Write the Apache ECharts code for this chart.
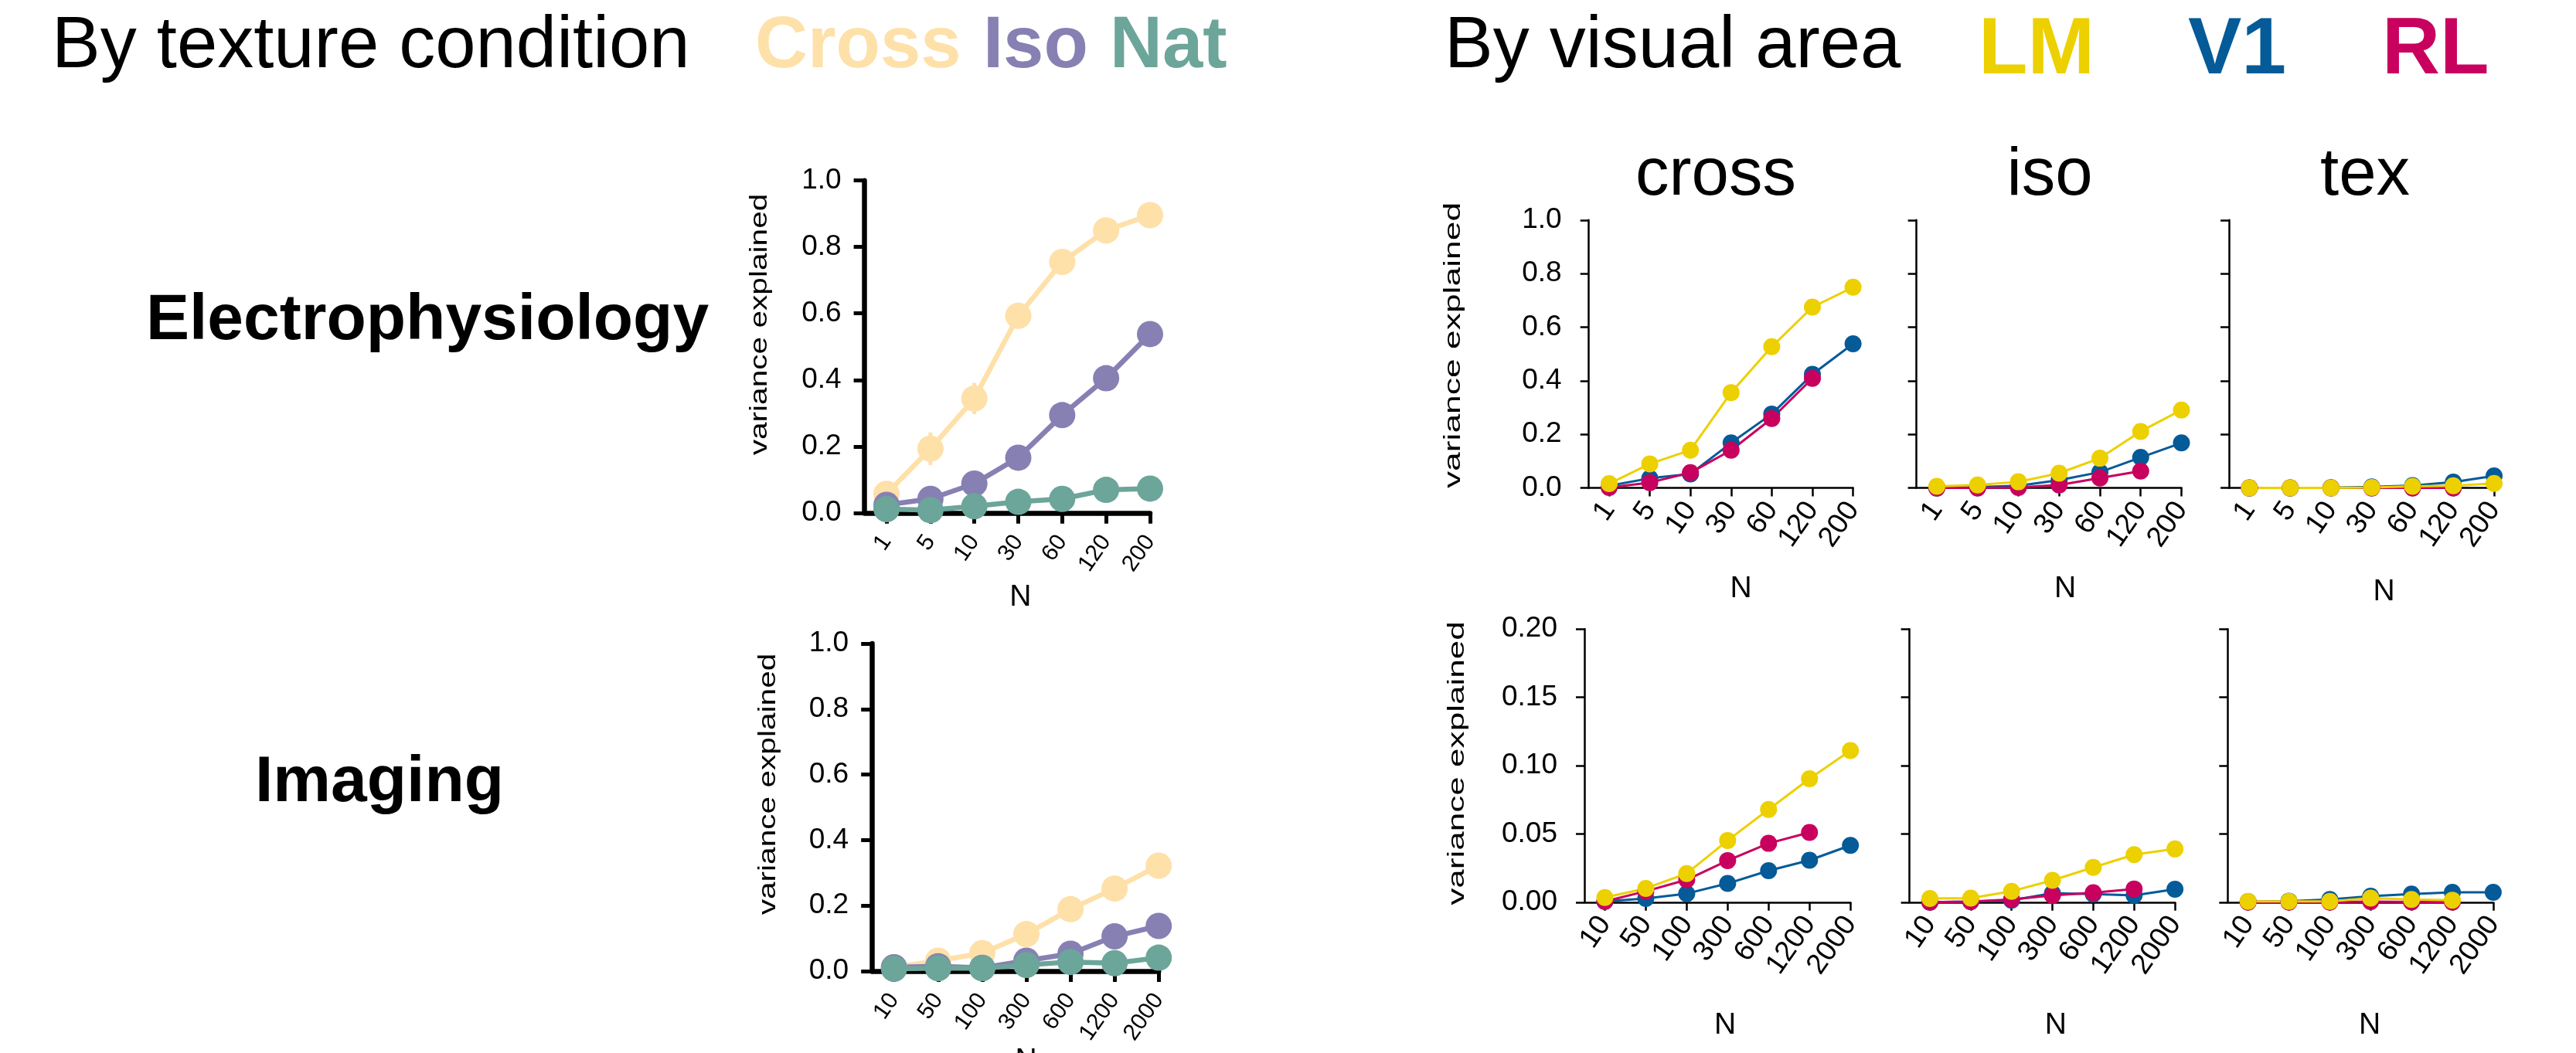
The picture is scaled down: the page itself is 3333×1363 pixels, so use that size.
<!DOCTYPE html>
<html>
<head>
<meta charset="utf-8">
<script src="https://cdn.jsdelivr.net/npm/echarts@6/dist/echarts.min.js"></script>
<style>
html,body{margin:0;padding:0;background:#fff;}
#chart{width:3333px;height:1363px;}
</style>
</head>
<body>
<div id="chart"></div>
<script>
// ---------- tick labels ----------
const nLabelsEphys = ['1', '5', '10', '30', '60', '120', '200'];
const nLabelsImaging = ['10', '50', '100', '300', '600', '1200', '2000'];

// ---------- by texture condition ----------
const ephysCross    = [0.057, 0.193, 0.344, 0.593, 0.755, 0.850, 0.896];
const ephysCrossErr = [0.000, 0.049, 0.047, 0.000, 0.000, 0.000, 0.000];
const ephysIso      = [0.024, 0.042, 0.088, 0.166, 0.294, 0.405, 0.538];
const ephysNat      = [0.011, 0.008, 0.020, 0.033, 0.042, 0.069, 0.073];
const imgCross      = [0.012, 0.032, 0.055, 0.113, 0.189, 0.252, 0.322];
const imgIso        = [0.012, 0.015, 0.010, 0.032, 0.053, 0.106, 0.138];
const imgNat        = [0.007, 0.009, 0.009, 0.019, 0.028, 0.024, 0.041];

// ---------- by visual area (electrophysiology) ----------
const ephCrossLM = [0.016, 0.090, 0.141, 0.356, 0.527, 0.675, 0.749];
const ephCrossV1 = [0.008, 0.036, 0.052, 0.168, 0.276, 0.424, 0.538];
const ephCrossRL = [0.002, 0.020, 0.057, 0.141, 0.259, 0.409, null];
const ephIsoLM   = [0.006, 0.011, 0.023, 0.055, 0.111, 0.211, 0.291];
const ephIsoV1   = [0.000, 0.003, 0.008, 0.029, 0.059, 0.114, 0.168];
const ephIsoRL   = [0.000, 0.000, 0.002, 0.011, 0.037, 0.063, null];
const ephTexLM   = [0.000, 0.000, 0.000, 0.002, 0.006, 0.008, 0.017];
const ephTexV1   = [0.000, 0.000, 0.001, 0.004, 0.009, 0.022, 0.045];
const ephTexRL   = [0.000, 0.000, 0.000, 0.000, 0.000, 0.000, null];

// ---------- by visual area (imaging) ----------
const imgCrossLM = [0.0034, 0.0101, 0.0210, 0.0452, 0.0679, 0.0904, 0.1110];
const imgCrossV1 = [0.0006, 0.0027, 0.0063, 0.0137, 0.0231, 0.0307, 0.0416];
const imgCrossRL = [0.0006, 0.0080, 0.0164, 0.0305, 0.0431, 0.0511, null];
const imgIsoLM   = [0.0027, 0.0030, 0.0080, 0.0160, 0.0255, 0.0348, 0.0390];
const imgIsoV1   = [0.0000, 0.0005, 0.0015, 0.0065, 0.0060, 0.0050, 0.0095];
const imgIsoRL   = [0.0000, 0.0005, 0.0020, 0.0050, 0.0070, 0.0097, null];
const imgTexLM   = [0.0006, 0.0006, 0.0006, 0.0030, 0.0020, 0.0015, null];
const imgTexV1   = [0.0005, 0.0008, 0.0020, 0.0044, 0.0060, 0.0072, 0.0072];
const imgTexRL   = [0.0000, 0.0000, 0.0000, 0.0004, 0.0002, 0.0001, null];

// ---------- colours ----------
const C_CROSS = '#FEE0A9', C_ISO = '#8780B3', C_NAT = '#6CA59A';
const C_LM = '#EDD000', C_V1 = '#055A98', C_RL = '#C8015F';
const FONT = 'Liberation Sans, Arial, Helvetica, sans-serif';

const chart = echarts.init(document.getElementById('chart'), null, {renderer: 'canvas'});

// grid rectangles (panel layout)
const grids = [
  {left: 1118.6, top: 233.7, width: 369.4, height: 430.1},  // 0 ephys by texture
  {left: 1128.2, top: 833.0, width: 371.0, height: 424.0},  // 1 imaging by texture
  {left: 2055.7, top: 284.8, width: 341.9, height: 346.8},  // 2 ephys cross
  {left: 2479.6, top: 284.8, width: 342.9, height: 346.8},  // 3 ephys iso
  {left: 2884.1, top: 284.8, width: 342.9, height: 346.8},  // 4 ephys tex
  {left: 2050.0, top: 814.2, width: 344.2, height: 353.6},  // 5 imaging cross
  {left: 2470.6, top: 814.2, width: 343.5, height: 353.6},  // 6 imaging iso
  {left: 2882.3, top: 814.2, width: 343.6, height: 353.6}   // 7 imaging tex
];

const tickPos = nLabelsEphys.map((_, i) => i + 1);

function xAxisDef(gi, labels, o) {
  return {
    gridIndex: gi, type: 'value', min: 0.5, max: labels.length,
    splitLine: {show: false},
    axisLine: {onZero: false, lineStyle: {color: '#000', width: o.lw}},
    axisTick: {customValues: tickPos, length: o.tl, lineStyle: {color: '#000', width: o.tw}},
    axisLabel: {
      customValues: tickPos, formatter: v => labels[Math.round(v) - 1],
      rotate: 55, margin: o.lm, fontSize: o.fs, color: '#000', fontFamily: FONT
    },
    name: 'N', nameLocation: 'middle', nameGap: o.ng, nameMoveOverlap: false,
    nameTextStyle: {fontSize: 39, color: '#000', fontFamily: FONT, padding: [0, 0, 0, o.nx]}
  };
}
function yAxisDef(gi, max, interval, digits, o) {
  return {
    gridIndex: gi, type: 'value', min: 0, max: max, interval: interval,
    splitLine: {show: false},
    axisLine: {lineStyle: {color: '#000', width: o.lw}},
    axisTick: {length: o.tl, lineStyle: {color: '#000', width: o.tw}},
    axisLabel: {show: o.show, formatter: v => v.toFixed(digits), margin: o.lm,
                fontSize: o.fs, color: '#000', fontFamily: FONT}
  };
}
const L = {lw: 6.5, tl: 14, tw: 5, fs: 30, lm: 32};
const R = {lw: 2.5, tl: 11, tw: 2.5, fs: 37, lm: 22};

const xAxes = [
  xAxisDef(0, nLabelsEphys,   Object.assign({}, L, {ng: 90, nx: 34})),
  xAxisDef(1, nLabelsImaging, Object.assign({}, L, {ng: 97, nx: 28})),
  xAxisDef(2, nLabelsEphys,   Object.assign({}, R, {ng: 111, nx: 52})),
  xAxisDef(3, nLabelsEphys,   Object.assign({}, R, {ng: 111, nx: 42})),
  xAxisDef(4, nLabelsEphys,   Object.assign({}, R, {ng: 115, nx: 58})),
  xAxisDef(5, nLabelsImaging, Object.assign({}, R, {ng: 140, nx: 20})),
  xAxisDef(6, nLabelsImaging, Object.assign({}, R, {ng: 140, nx: 35})),
  xAxisDef(7, nLabelsImaging, Object.assign({}, R, {ng: 140, nx: 24}))
];
const yAxes = [
  yAxisDef(0, 1.0, 0.2, 1, {lw: 6.5, tl: 14, tw: 5, fs: 37, lm: 30, show: true}),
  yAxisDef(1, 1.0, 0.2, 1, {lw: 6.5, tl: 14, tw: 5, fs: 37, lm: 30, show: true}),
  yAxisDef(2, 1.0, 0.2, 1, {lw: 2.5, tl: 11, tw: 2.5, fs: 37, lm: 35, show: true}),
  yAxisDef(3, 1.0, 0.2, 1, {lw: 2.5, tl: 11, tw: 2.5, fs: 37, lm: 35, show: false}),
  yAxisDef(4, 1.0, 0.2, 1, {lw: 2.5, tl: 11, tw: 2.5, fs: 37, lm: 35, show: false}),
  yAxisDef(5, 0.2, 0.05, 2, {lw: 2.5, tl: 11, tw: 2.5, fs: 37, lm: 35, show: true}),
  yAxisDef(6, 0.2, 0.05, 2, {lw: 2.5, tl: 11, tw: 2.5, fs: 37, lm: 35, show: false}),
  yAxisDef(7, 0.2, 0.05, 2, {lw: 2.5, tl: 11, tw: 2.5, fs: 37, lm: 35, show: false})
];

function lineSeries(name, gi, values, color, size, width) {
  const data = [];
  values.forEach((v, i) => { if (v !== null) data.push([i + 1, v]); });
  return {
    name: name, type: 'line', xAxisIndex: gi, yAxisIndex: gi, data: data,
    symbol: 'circle', symbolSize: size, showSymbol: true, clip: false, silent: true,
    lineStyle: {color: color, width: width}, itemStyle: {color: color}
  };
}
function errorSeries(gi, values, errs, color, width) {
  const data = [];
  values.forEach((v, i) => { if (errs[i] > 0) data.push([i + 1, v - errs[i], v + errs[i]]); });
  return {
    type: 'custom', xAxisIndex: gi, yAxisIndex: gi, data: data, silent: true,
    encode: {x: 0, y: [1, 2]}, clip: false,
    renderItem: function (params, api) {
      const p1 = api.coord([api.value(0), api.value(1)]);
      const p2 = api.coord([api.value(0), api.value(2)]);
      return {type: 'line', shape: {x1: p1[0], y1: p1[1], x2: p2[0], y2: p2[1]},
              style: {stroke: color, lineWidth: width}};
    }
  };
}
const series = [
  errorSeries(0, ephysCross, ephysCrossErr, C_CROSS, 5),
  lineSeries('Cross', 0, ephysCross, C_CROSS, 34, 6.5),
  lineSeries('Iso',   0, ephysIso,   C_ISO,   34, 6.5),
  lineSeries('Nat',   0, ephysNat,   C_NAT,   34, 6.5),
  lineSeries('Cross', 1, imgCross,   C_CROSS, 34, 6.5),
  lineSeries('Iso',   1, imgIso,     C_ISO,   34, 6.5),
  lineSeries('Nat',   1, imgNat,     C_NAT,   34, 6.5)
];
const areaPanels = [
  [2, ephCrossV1, ephCrossRL, ephCrossLM],
  [3, ephIsoV1, ephIsoRL, ephIsoLM],
  [4, ephTexV1, ephTexRL, ephTexLM],
  [5, imgCrossV1, imgCrossRL, imgCrossLM],
  [6, imgIsoV1, imgIsoRL, imgIsoLM],
  [7, imgTexV1, imgTexRL, imgTexLM]
];
areaPanels.forEach(p => {
  series.push(lineSeries('V1', p[0], p[1], C_V1, 22, 3));
  series.push(lineSeries('RL', p[0], p[2], C_RL, 22, 3));
  series.push(lineSeries('LM', p[0], p[3], C_LM, 22, 3));
});

function txt(text, x, y, size, opts) {
  opts = opts || {};
  return {
    type: 'text', x: x, y: y, rotation: opts.rot || 0,
    scaleX: opts.sx || 1, scaleY: 1, silent: true,
    style: {
      text: text, fontSize: size, fontFamily: FONT, fontWeight: opts.bold ? 'bold' : 'normal',
      fill: opts.color || '#000', align: opts.align || 'left', verticalAlign: 'middle'
    }
  };
}
const yName = 'variance explained';
const graphics = [
  txt('By texture condition', 67, 61, 94),
  txt('Cross', 977, 61, 94, {bold: true, color: C_CROSS}),
  txt('Iso', 1272, 61, 94, {bold: true, color: C_ISO}),
  txt('Nat', 1436, 61, 94, {bold: true, color: C_NAT}),
  txt('By visual area', 1869, 61, 94),
  txt('LM', 2560, 66, 104, {bold: true, color: C_LM}),
  txt('V1', 2831, 66, 104, {bold: true, color: C_V1}),
  txt('RL', 3082, 66, 104, {bold: true, color: C_RL}),
  txt('Electrophysiology', 189, 416, 84, {bold: true}),
  txt('Imaging', 330, 1014, 84, {bold: true}),
  txt('cross', 2220, 228, 87, {align: 'center'}),
  txt('iso', 2652, 228, 87, {align: 'center'}),
  txt('tex', 3060, 228, 87, {align: 'center'}),
  txt(yName, 983, 420, 31, {rot: Math.PI / 2, sx: 1.31, align: 'center'}),
  txt(yName, 994, 1015, 31, {rot: Math.PI / 2, sx: 1.31, align: 'center'}),
  txt(yName, 1881, 447, 30, {rot: Math.PI / 2, sx: 1.48, align: 'center'}),
  txt(yName, 1886, 988, 30, {rot: Math.PI / 2, sx: 1.47, align: 'center'})
];

chart.setOption({
  animation: false,
  backgroundColor: '#ffffff',
  textStyle: {fontFamily: FONT},
  grid: grids.map(g => Object.assign({containLabel: false, outerBoundsMode: 'none'}, g)),
  xAxis: xAxes,
  yAxis: yAxes,
  series: series,
  graphic: {elements: graphics}
});
</script>
</body>
</html>
